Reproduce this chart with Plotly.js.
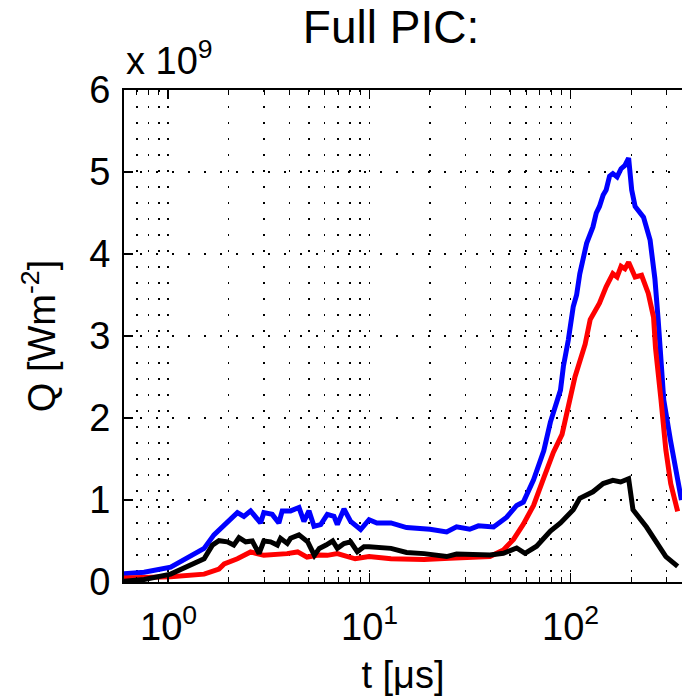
<!DOCTYPE html>
<html>
<head>
<meta charset="utf-8">
<script src="https://cdn.plot.ly/plotly-3.0.1.min.js"></script>
<style>html,body{margin:0;padding:0;background:#fff;}#chart{width:682px;height:698px;}</style>
</head>
<body>
<div id="chart"></div>
<script>
// ---- data (t in microseconds, Q in units of 1e9 W m^-2) ----
const tBlue = [0.6, 0.76, 1.03, 1.51, 1.69, 1.9, 2.21, 2.38, 2.57, 2.88, 2.99, 3.29, 3.55, 3.69, 4.06, 4.47, 4.73, 5.01, 5.31, 5.73, 6.18, 6.67, 6.93, 7.48, 8.07, 9.05, 9.96, 10.9, 12.8, 15.3, 18.7, 20, 24.2, 27.1, 31.5, 34.8, 41.4, 48.1, 53.9, 58.2, 65.4, 73.5, 79.3, 89, 92, 97.3, 103, 107, 111, 120, 129, 134, 139, 145, 150, 156, 162, 170, 178, 186, 194, 201, 209, 230, 248, 262, 272, 278, 290, 313, 333, 355];
const qBlue = [0.10, 0.12, 0.18, 0.41, 0.575, 0.70, 0.846, 0.80, 0.867, 0.72, 0.846, 0.825, 0.72, 0.867, 0.867, 0.908, 0.74, 0.867, 0.68, 0.70, 0.825, 0.80, 0.70, 0.89, 0.74, 0.64, 0.76, 0.72, 0.72, 0.664, 0.65, 0.643, 0.61, 0.672, 0.643, 0.685, 0.672, 0.79, 0.934, 0.975, 1.245, 1.6, 1.95, 2.34, 2.63, 2.95, 3.36, 3.5, 3.76, 4.13, 4.33, 4.5, 4.58, 4.72, 4.78, 4.95, 4.98, 4.94, 5.04, 5.08, 5.17, 4.78, 4.58, 4.45, 4.17, 3.7, 3.2, 2.83, 2.22, 1.73, 1.33, 1.0];

const tRed = [0.6, 1.03, 1.51, 1.79, 1.9, 2.21, 2.57, 2.99, 3.9, 4.4, 4.9, 5.6, 6.18, 6.93, 8.5, 9.96, 12.8, 18.7, 25, 39.7, 46.3, 52, 58.2, 65.4, 73.5, 82, 90.6, 97, 105, 118, 125, 139, 150, 162, 170, 178, 186, 194, 209, 225, 243, 258, 264, 281, 297, 314, 340];
const qRed = [0.05, 0.065, 0.096, 0.158, 0.22, 0.283, 0.367, 0.325, 0.346, 0.367, 0.304, 0.33, 0.325, 0.346, 0.283, 0.31, 0.283, 0.275, 0.29, 0.31, 0.39, 0.52, 0.705, 0.934, 1.27, 1.58, 1.8, 2.14, 2.5, 2.9, 3.2, 3.4, 3.6, 3.76, 3.72, 3.85, 3.82, 3.9, 3.72, 3.74, 3.52, 3.23, 2.85, 2.22, 1.61, 1.2, 0.86];

const tBlack = [0.6, 0.76, 1.03, 1.51, 1.66, 1.79, 1.97, 2.12, 2.25, 2.43, 2.62, 2.83, 2.99, 3.23, 3.49, 3.62, 3.91, 4.06, 4.47, 4.94, 5.33, 5.64, 6.09, 6.57, 6.93, 7.48, 8.07, 8.71, 9.4, 9.96, 12.8, 15.3, 18.7, 24.2, 27.1, 33, 39.7, 46.3, 53.9, 59.3, 67.7, 79.3, 89, 103, 111, 129, 145, 162, 177, 194, 204, 238, 264, 297, 340];
const qBlack = [0.01, 0.03, 0.096, 0.283, 0.45, 0.504, 0.49, 0.45, 0.54, 0.49, 0.50, 0.346, 0.50, 0.49, 0.45, 0.533, 0.47, 0.533, 0.575, 0.49, 0.325, 0.41, 0.45, 0.50, 0.41, 0.47, 0.49, 0.37, 0.43, 0.43, 0.41, 0.36, 0.346, 0.31, 0.34, 0.34, 0.33, 0.35, 0.415, 0.35, 0.436, 0.62, 0.72, 0.88, 1.02, 1.1, 1.2, 1.24, 1.22, 1.26, 0.88, 0.67, 0.51, 0.31, 0.19];

const xTickVals = [1, 10, 100];
const xTickText = ['10<sup>0</sup>', '10<sup>1</sup>', '10<sup>2</sup>'];
const xMinorVals = [0.7, 0.8, 0.9, 2, 3, 4, 5, 6, 7, 8, 9, 20, 30, 40, 50, 60, 70, 80, 90, 200, 300];
const yTickVals = [0, 1, 2, 3, 4, 5, 6];
const yTickText = ['0', '1', '2', '3', '4', '5', '6'];

// ---- styling ----
const FONT = 'Liberation Sans, Arial, Helvetica, sans-serif';
const tickFont = {family: FONT, size: 38, color: '#000'};
const lw = 5;

const traces = [
  {x: tBlue, y: qBlue, mode: 'lines', line: {color: '#0000ff', width: lw}, hoverinfo: 'skip'},
  {x: tRed, y: qRed, mode: 'lines', line: {color: '#ff0000', width: lw}, hoverinfo: 'skip'},
  {x: tBlack, y: qBlack, mode: 'lines', line: {color: '#000000', width: lw}, hoverinfo: 'skip'}
];

// x tick labels drawn as annotations so their vertical placement can be tuned
const xLabelAnns = xTickVals.map((v, i) => ({
  text: xTickText[i], xref: 'x', yref: 'paper', x: Math.log10(v), y: (582 - 650) / 492,
  xanchor: 'center', yanchor: 'bottom', showarrow: false, font: tickFont
}));

const layout = {
  width: 682, height: 698,
  margin: {l: 124, r: 0, t: 90, b: 116, pad: 0},
  paper_bgcolor: '#fff', plot_bgcolor: '#fff',
  showlegend: false,
  font: {family: FONT, color: '#000'},
  title: {text: 'Full PIC:', font: {family: FONT, size: 46, color: '#000'},
          x: 391 / 682, xref: 'container', xanchor: 'center',
          y: 1 - 27 / 698, yref: 'container', yanchor: 'middle'},
  xaxis: {
    type: 'log', range: [Math.log10(0.604), 2.553], autorange: false,
    tickmode: 'array', tickvals: xTickVals, ticktext: xTickText, showticklabels: false,
    ticks: 'inside', ticklen: 9, tickwidth: 1.5, tickcolor: '#000',
    showline: true, linecolor: '#000', linewidth: 2, mirror: 'ticks',
    showgrid: true, gridcolor: '#000', gridwidth: 1.5, griddash: '1.5px,14.5px',
    minor: {tickmode: 'array', tickvals: xMinorVals, ticks: 'inside', ticklen: 5, tickwidth: 1, tickcolor: '#000',
            showgrid: true, gridcolor: '#000', gridwidth: 1.5, griddash: '1.5px,14.5px'},
    zeroline: false, tickfont: tickFont,
    title: {text: 't [μs]', font: {family: FONT, size: 38, color: '#000'}, standoff: 78}
  },
  yaxis: {
    range: [0, 6], autorange: false,
    tickmode: 'array', tickvals: yTickVals, ticktext: yTickText,
    ticks: 'inside', ticklen: 9, tickwidth: 1.5, tickcolor: '#000',
    showline: true, linecolor: '#000', linewidth: 2, mirror: false,
    showgrid: true, gridcolor: '#000', gridwidth: 1.5, griddash: '1.5px,14.5px',
    zeroline: false, tickfont: tickFont, ticklabelstandoff: 4,
    title: {text: 'Q [Wm<sup>-2</sup>]', font: {family: FONT, size: 38, color: '#000'}, standoff: 22}
  },
  annotations: [
    {text: 'x 10<sup>9</sup>', xref: 'paper', yref: 'paper', x: 0, y: (582 - 84) / 492,
     xanchor: 'left', yanchor: 'bottom', showarrow: false,
     font: {family: FONT, size: 38, color: '#000'}}
  ].concat(xLabelAnns)
};

Plotly.newPlot('chart', traces, layout, {staticPlot: true, displayModeBar: false});
</script>
</body>
</html>
